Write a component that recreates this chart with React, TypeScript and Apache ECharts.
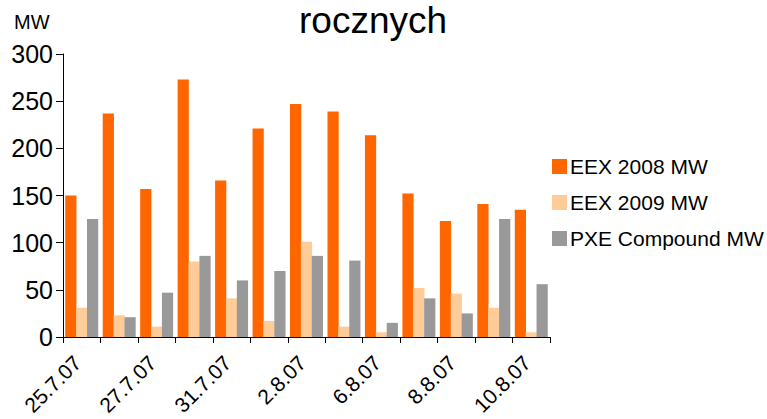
import React, { useEffect, useRef } from "react";
import * as echarts from "echarts";

const categories = [
  "25.7.07", "26.7.07", "27.7.07", "30.7.07", "31.7.07", "1.8.07", "2.8.07",
  "3.8.07", "6.8.07", "7.8.07", "8.8.07", "9.8.07", "10.8.07",
];
const eex2008 = [150, 237, 157, 273, 166, 221, 247, 239, 214, 152, 123, 141, 135];
const eex2009 = [31, 23, 11, 80, 41, 17, 101, 11, 5, 52, 46, 31, 5];
const pxe = [125, 21, 47, 86, 60, 70, 86, 81, 15, 41, 25, 125, 56];
const seriesNames = ["EEX 2008 MW", "EEX 2009 MW", "PXE Compound MW"];
const colors = ["#FF6600", "#FFCC99", "#999999"];

const FONT = "Liberation Sans, Arial, sans-serif";

export default function App() {
  const ref = useRef<HTMLDivElement>(null);
  useEffect(() => {
    if (!ref.current) return;
    const chart = echarts.init(ref.current, null, { renderer: "svg" });
    const data = [eex2008, eex2009, pxe];
    chart.setOption({
      animation: false,
      backgroundColor: "#ffffff",
      title: {
        text: "rocznych",
        left: 299,
        top: 2,
        padding: 0,
        textStyle: { fontFamily: FONT, fontSize: 37, fontWeight: "normal", color: "#000" },
      },
      graphic: [
        {
          type: "text",
          left: 14,
          top: 12,
          style: { text: "MW", font: `20px ${FONT}`, fill: "#000" },
        },
      ],
      legend: {
        orient: "vertical",
        left: 552,
        top: 156,
        padding: 0,
        itemWidth: 15,
        itemHeight: 15,
        itemGap: 15,
        icon: "rect",
        textStyle: { fontFamily: FONT, fontSize: 21, color: "#000", padding: [0, 0, 0, -2] },
        data: seriesNames,
      },
      grid: {
        left: 63,
        right: 217,
        top: 54,
        bottom: 82,
        containLabel: false,
        outerBoundsMode: "none",
      },
      xAxis: {
        type: "category",
        data: categories,
        axisLine: { show: true, lineStyle: { color: "#000", width: 1 } },
        axisTick: { show: true, alignWithLabel: false, interval: 0, length: 6, lineStyle: { color: "#000" } },
        axisLabel: {
          interval: 1,
          rotate: 45,
          margin: 18,
          padding: [0, 6, 0, 0],
          fontFamily: FONT,
          fontSize: 21,
          color: "#000",
        },
      },
      yAxis: {
        type: "value",
        min: 0,
        max: 300,
        interval: 50,
        axisLine: { show: true, lineStyle: { color: "#000", width: 1 } },
        axisTick: { show: true, length: 7, lineStyle: { color: "#000" } },
        splitLine: { show: false },
        axisLabel: { fontFamily: FONT, fontSize: 25, color: "#000", margin: 10 },
      },
      series: data.map((d, i) => ({
        name: seriesNames[i],
        type: "bar",
        data: d,
        barGap: "-3%",
        barCategoryGap: "12%",
        itemStyle: { color: colors[i] },
      })),
    });
    return () => chart.dispose();
  }, []);
  return (
    <div
      ref={ref}
      style={{ position: "fixed", left: 0, top: 0, width: 767, height: 419 }}
    />
  );
}
